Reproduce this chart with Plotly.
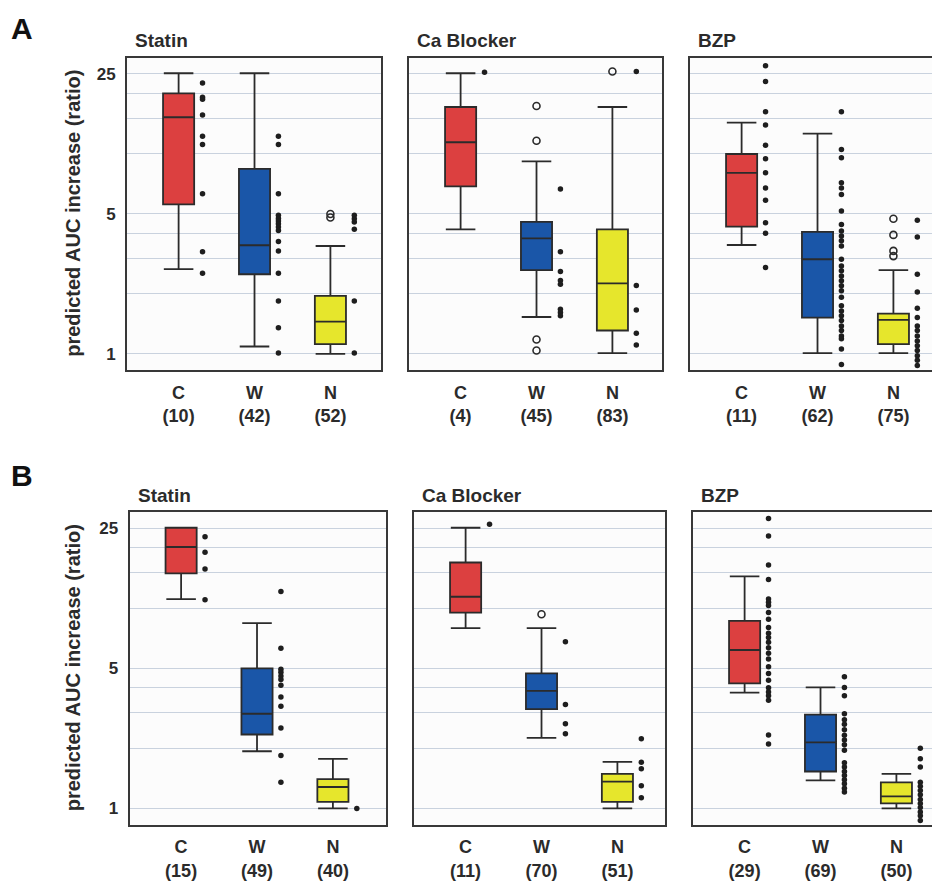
import plotly.graph_objects as go

# ---------------- data ----------------
groups = ["C", "W", "N"]
box_colors = ["#DC4040", "#1A56A8", "#E6E62C"]

# n per group
n_A_statin = [10, 42, 52]
n_A_ca = [4, 45, 83]
n_A_bzp = [11, 62, 75]
n_B_statin = [15, 49, 40]
n_B_ca = [11, 70, 51]
n_B_bzp = [29, 69, 50]

# box statistics [C, W, N]
q1_A_statin = [5.58, 2.50, 1.12]
med_A_statin = [15.2, 3.49, 1.45]
q3_A_statin = [20.0, 8.39, 1.95]
lo_A_statin = [2.65, 1.09, 1.00]
hi_A_statin = [25.2, 25.2, 3.46]

q1_A_ca = [6.87, 2.62, 1.31]
med_A_ca = [11.4, 3.78, 2.25]
q3_A_ca = [17.1, 4.57, 4.19]
lo_A_ca = [4.19, 1.53, 1.01]
hi_A_ca = [25.2, 9.16, 17.1]

q1_A_bzp = [4.32, 1.52, 1.12]
med_A_bzp = [8.02, 2.97, 1.48]
q3_A_bzp = [9.96, 4.07, 1.59]
lo_A_bzp = [3.50, 1.01, 1.01]
hi_A_bzp = [14.3, 12.6, 2.62]

q1_B_statin = [14.9, 2.34, 1.08]
med_B_statin = [20.2, 2.97, 1.28]
q3_B_statin = [25.2, 5.0, 1.40]
lo_B_statin = [11.1, 1.93, 1.00]
hi_B_statin = [25.2, 8.41, 1.77]

q1_B_ca = [9.5, 3.13, 1.08]
med_B_ca = [11.4, 3.86, 1.36]
q3_B_ca = [16.9, 4.72, 1.49]
lo_B_ca = [7.94, 2.25, 1.00]
hi_B_ca = [25.2, 7.94, 1.71]

q1_B_bzp = [4.21, 1.53, 1.06]
med_B_bzp = [6.18, 2.14, 1.15]
q3_B_bzp = [8.63, 2.94, 1.35]
lo_B_bzp = [3.79, 1.38, 1.00]
hi_B_bzp = [14.4, 4.02, 1.49]

# outliers (open circles) per group
out_A_statin = [[], [], [5.0, 4.8]]
out_A_ca = [[], [17.3, 11.6, 1.18, 1.04], [25.7]]
out_A_bzp = [[], [], [4.73, 3.93, 3.27, 3.08]]
out_B_statin = [[], [], []]
out_B_ca = [[], [9.33], []]
out_B_bzp = [[], [], []]

# individual values (dot strips) per group
dots_A_statin = [
    [22.5, 19.1, 18.7, 15.6, 12.2, 11.1, 6.3, 3.24, 2.53],
    [12.2, 11.1, 6.3, 4.92, 4.75, 4.61, 4.47, 4.30, 4.14, 3.64, 3.27, 2.53, 1.84, 1.35, 1.01],
    [4.92, 4.73, 4.56, 4.19, 1.84, 1.01],
]
dots_A_ca = [
    [25.5],
    [6.67, 3.24, 2.58, 2.33, 2.23, 1.67, 1.61, 1.55],
    [25.7, 2.20, 1.66, 1.27, 1.11],
]
dots_A_bzp = [
    [27.5, 22.9, 16.2, 13.9, 11.0, 9.44, 8.02, 6.74, 5.86, 4.52, 4.00, 2.70],
    [16.2, 10.5, 9.53, 7.15, 6.74, 6.25, 5.17, 4.43, 4.11, 3.88, 3.67, 3.46, 2.97, 2.75,
     2.60, 2.45, 2.32, 2.19, 2.07, 1.92, 1.74, 1.64, 1.55, 1.47, 1.38, 1.31, 1.23, 1.19,
     1.06, 0.885],
    [4.65, 3.84, 2.50, 2.04, 1.69, 1.52, 1.38, 1.31, 1.23, 1.16, 1.10, 1.04, 0.98, 0.93, 0.875],
]
dots_B_statin = [
    [22.7, 19.0, 15.7, 11.0],
    [12.1, 6.30, 4.96, 4.78, 4.59, 4.41, 4.12, 3.60, 3.24, 2.52, 1.84, 1.35],
    [1.0],
]
dots_B_ca = [
    [26.2],
    [6.80, 3.30, 2.65, 2.36],
    [2.23, 1.70, 1.58, 1.30, 1.13],
]
dots_B_bzp = [
    [28.0, 22.9, 16.4, 13.9, 11.1, 10.7, 10.3, 9.51, 8.81, 8.00, 7.49, 7.13, 6.75, 6.35,
     5.95, 5.57, 5.10, 4.72, 4.37, 4.00, 3.82, 3.65, 3.47, 2.33, 2.10],
    [4.54, 4.02, 3.65, 2.97, 2.77, 2.63, 2.47, 2.32, 2.20, 2.08, 1.95, 1.69, 1.61, 1.53,
     1.46, 1.39, 1.33, 1.26, 1.21],
    [2.0, 1.77, 1.61, 1.35, 1.29, 1.23, 1.17, 1.11, 1.06, 1.01, 0.96, 0.92, 0.87],
]

panel_titles = ["Statin", "Ca Blocker", "BZP"]
grid_vals = [1, 2, 3, 4, 5, 10, 15, 20, 25]
tick_labels = ["1", "", "", "", "5", "", "", "", "25"]

# ---------------- layout geometry ----------------
# the page body has an 8px default margin, so the figure is drawn 8px smaller
OFF = 8
W, H = 940 - OFF, 882 - OFF
PX_PER_UNIT = 75.9
DOT_OFFSET = 0.315
FONT = "Liberation Sans, Arial, sans-serif"
INK = "#2b2b2b"


def px(v):
    return v - OFF


panels = [
    # row, col, x_left_px, x_right_px, y_top_px, y_bot_px (page px), stats, outliers, dots, n
    (0, 0, 127, 381, 57.5, 370, (q1_A_statin, med_A_statin, q3_A_statin, lo_A_statin, hi_A_statin), out_A_statin, dots_A_statin, n_A_statin),
    (0, 1, 409, 662, 57.5, 370, (q1_A_ca, med_A_ca, q3_A_ca, lo_A_ca, hi_A_ca), out_A_ca, dots_A_ca, n_A_ca),
    (0, 2, 690, 940, 57.5, 370, (q1_A_bzp, med_A_bzp, q3_A_bzp, lo_A_bzp, hi_A_bzp), out_A_bzp, dots_A_bzp, n_A_bzp),
    (1, 0, 129.5, 385.5, 512, 824.5, (q1_B_statin, med_B_statin, q3_B_statin, lo_B_statin, hi_B_statin), out_B_statin, dots_B_statin, n_B_statin),
    (1, 1, 414, 665, 512, 824.5, (q1_B_ca, med_B_ca, q3_B_ca, lo_B_ca, hi_B_ca), out_B_ca, dots_B_ca, n_B_ca),
    (1, 2, 693, 940, 512, 824.5, (q1_B_bzp, med_B_bzp, q3_B_bzp, lo_B_bzp, hi_B_bzp), out_B_bzp, dots_B_bzp, n_B_bzp),
]

fig = go.Figure()
layout = {}
annotations = []

for k, (row, col, xl, xr, yt, yb, stats, outs, dots, ns) in enumerate(panels, start=1):
    xa = "x" if k == 1 else f"x{k}"
    ya = "y" if k == 1 else f"y{k}"
    q1, med, q3, lo, hi = stats
    for i, g in enumerate(groups):
        fig.add_trace(go.Box(
            x=[i], q1=[q1[i]], median=[med[i]], q3=[q3[i]],
            lowerfence=[lo[i]], upperfence=[hi[i]],
            fillcolor=box_colors[i], line=dict(color=INK, width=1.8),
            width=0.41, whiskerwidth=0.95, boxpoints=False,
            xaxis=xa, yaxis=ya, showlegend=False, hoverinfo="skip"))
        if outs[i]:
            fig.add_trace(go.Scatter(
                x=[i] * len(outs[i]), y=outs[i], mode="markers",
                marker=dict(symbol="circle-open", size=7, color=INK, line=dict(width=1.6)),
                xaxis=xa, yaxis=ya, showlegend=False, hoverinfo="skip"))
        fig.add_trace(go.Scatter(
            x=[i + DOT_OFFSET] * len(dots[i]), y=dots[i], mode="markers",
            marker=dict(symbol="circle", size=5.5, color="#1e1e1e"),
            xaxis=xa, yaxis=ya, showlegend=False, hoverinfo="skip"))

    x0 = -0.68
    x1 = x0 + (xr - xl) / PX_PER_UNIT
    layout["xaxis" if k == 1 else f"xaxis{k}"] = dict(
        domain=[px(xl) / W, min(px(xr) / W, 1.0)], range=[x0, x1], anchor=ya,
        showgrid=False, zeroline=False, showline=True, mirror=True,
        linecolor="#383838", linewidth=2, ticks="",
        tickvals=[0, 1, 2],
        ticktext=[f"{g}<br>({n})" for g, n in zip(groups, ns)],
        ticklabelstandoff=5,
        tickfont=dict(family=FONT, size=18, color=INK, weight="bold"),
    )
    layout["yaxis" if k == 1 else f"yaxis{k}"] = dict(
        domain=[1 - px(yb) / H, 1 - px(yt) / H], type="log", range=[-0.08, 1.48], anchor=xa,
        showgrid=True, gridcolor="#c9d2de", gridwidth=1, zeroline=False,
        showline=True, mirror=(col != 2), linecolor="#383838", linewidth=2, ticks="",
        tickvals=grid_vals, ticktext=tick_labels, showticklabels=(col == 0),
        ticklabelstandoff=6,
        tickfont=dict(family=FONT, size=17, color=INK, weight="bold"),
    )
    annotations.append(dict(
        text=f"<b>{panel_titles[col]}</b>", x=px(xl + 6) / W, y=1 - px(yt - 17) / H,
        xref="paper", yref="paper", xanchor="left", yanchor="middle", showarrow=False,
        font=dict(family=FONT, size=19, color=INK)))
    if col == 0:
        annotations.append(dict(
            text="<b>predicted AUC increase (ratio)</b>", x=px(73) / W,
            y=1 - px((yt + yb) / 2) / H,
            xref="paper", yref="paper", xanchor="center", yanchor="middle", showarrow=False,
            textangle=-90, font=dict(family=FONT, size=20, color=INK)))

annotations.append(dict(text="<b>A</b>", x=px(22) / W, y=1 - px(28) / H, xref="paper", yref="paper",
                        xanchor="center", yanchor="middle", showarrow=False,
                        font=dict(family=FONT, size=30, color="#111")))
annotations.append(dict(text="<b>B</b>", x=px(22) / W, y=1 - px(475) / H, xref="paper", yref="paper",
                        xanchor="center", yanchor="middle", showarrow=False,
                        font=dict(family=FONT, size=30, color="#111")))

fig.update_layout(
    width=W, height=H, autosize=False,
    margin=dict(l=0, r=0, t=0, b=0),
    paper_bgcolor="white", plot_bgcolor="#fcfcfc",
    showlegend=False, boxmode="overlay",
    annotations=annotations,
    **layout,
)

fig.write_html("out.html")
